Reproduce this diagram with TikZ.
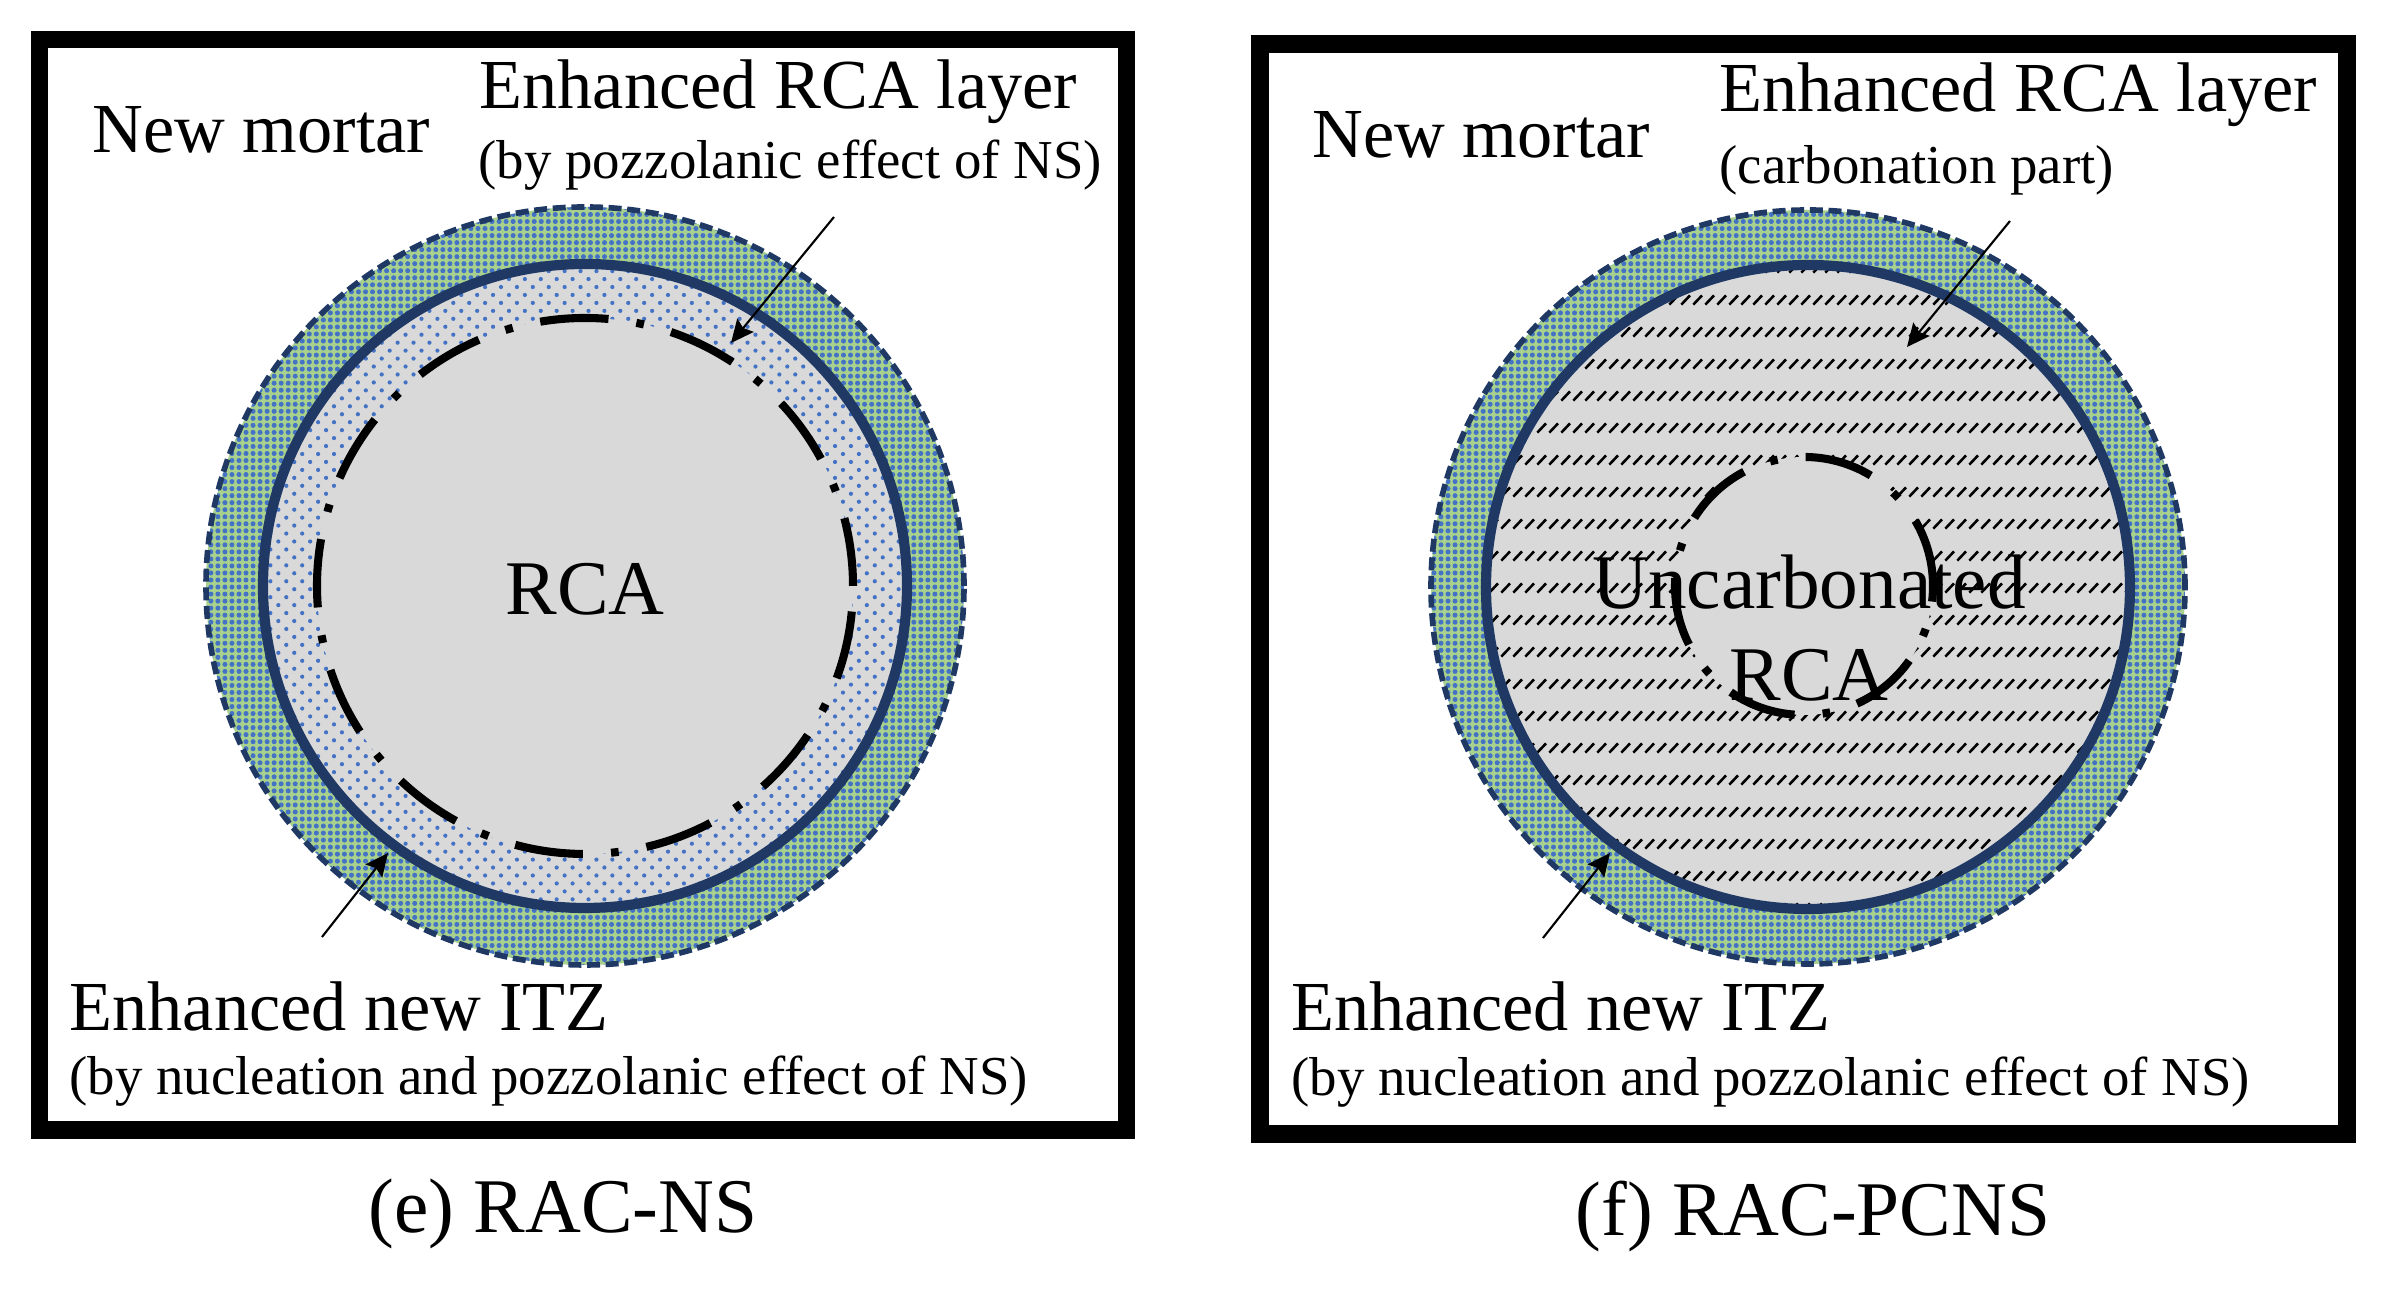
\documentclass[tikz,border=0pt]{standalone}
\usepackage{fontspec}
\setmainfont{Liberation Serif}
\usetikzlibrary{patterns,patterns.meta,arrows.meta}

\definecolor{itznavy}{HTML}{1F3864}
\definecolor{itzgreen}{HTML}{A9D18E}
\definecolor{nsblue}{HTML}{4472C4}
\definecolor{rcagray}{HTML}{D9D9D9}

% short diagonal dashes in rows (carbonated part)
\pgfdeclarepatternformonly{carbhatch}{\pgfqpoint{0pt}{0pt}}{\pgfqpoint{3.5pt}{9.1pt}}{\pgfqpoint{3.5pt}{9.1pt}}{%
  \pgfsetlinewidth{0.75pt}%
  \pgfpathmoveto{\pgfqpoint{0.4pt}{0.4pt}}%
  \pgfpathlineto{\pgfqpoint{3.0pt}{3.0pt}}%
  \pgfusepath{stroke}}

\begin{document}
\begin{tikzpicture}[
  frame/.style={draw, line width=5pt},
  itzring/.style={fill=itzgreen, postaction={pattern={Dots[distance=2pt, radius=0.72pt]}, pattern color=nsblue}},
  nsdots/.style={fill=rcagray, postaction={pattern={Dots[angle=45, distance=3.2pt, radius=0.6pt]}, pattern color=nsblue}},
  carbon/.style={fill=rcagray, postaction={pattern=carbhatch}},
  navyline/.style={draw=itznavy, line width=2.9pt},
  outline/.style={draw=itznavy, line width=1.6pt, dash pattern=on 3.7pt off 1.6pt},
  dashdot/.style={draw=black, line width=2.3pt, dash pattern=on 19.5pt off 8pt on 2.2pt off 8pt},
  lbl/.style={font=\fontsize{20}{24}\selectfont, inner sep=0pt, anchor=west},
  note/.style={font=\fontsize{15.6}{18}\selectfont, inner sep=0pt, anchor=west},
  big/.style={font=\fontsize{22}{26.2}\selectfont, inner sep=0pt, align=center},
  arr/.style={-{Stealth[length=6.5pt, width=6pt, inset=1pt]}, line width=0.6pt},
]
  \useasboundingbox (0,0) rectangle (24.01,12.97);

  % (e) RAC-NS
  \draw[frame] (0.395,12.575) rectangle (11.265,1.67);
  \fill[itzring] (5.85,7.11) circle[radius=3.79];
  \fill[nsdots] (5.85,7.11) circle[radius=3.22];
  \fill[rcagray] (5.85,7.11) circle[radius=2.68];
  \draw[dashdot] (5.85,7.11) circle[radius=2.68];
  \draw[navyline] (5.85,7.11) circle[radius=3.22];
  \draw[outline] (5.85,7.11) circle[radius=3.79];

  \node[big] (rca1) at (5.85,7.08) {RCA};
  \node[lbl] (mortar1) at (0.92,11.67) {New mortar};
  \node[lbl] (layer1) at (4.79,12.05) {Enhanced RCA layer};
  \node[note] (pozz1) at (4.78,11.32) {(by pozzolanic effect of NS)};
  \node[lbl] (itz1) at (0.69,2.91) {Enhanced new ITZ};
  \node[note] (nucl1) at (0.69,2.16) {(by nucleation and pozzolanic effect of NS)};
  \node[big] (cap1) at (5.63,0.83) {(e) RAC-NS};

  \coordinate (t1) at (8.34,10.80);
  \coordinate (h1) at (7.31,9.54);
  \coordinate (t2) at (3.22,3.60);
  \coordinate (h2) at (3.88,4.44);
  \draw[arr] (t1) -- (h1);
  \draw[arr] (t2) -- (h2);

  % (f) RAC-PCNS
  \draw[frame] (12.60,12.53) rectangle (23.47,1.63);
  \fill[itzring] (18.08,7.10) circle[radius=3.77];
  \fill[carbon] (18.08,7.10) circle[radius=3.22];
  \fill[rcagray] (18.04,7.11) circle[radius=1.29];
  \draw[dashdot] (18.04,7.11) circle[radius=1.29];
  \draw[navyline] (18.08,7.10) circle[radius=3.22];
  \draw[outline] (18.08,7.10) circle[radius=3.77];

  \node[big] (rca2) at (18.09,6.69) {Uncarbonated\\RCA};
  \node[lbl] (mortar2) at (13.12,11.62) {New mortar};
  \node[lbl] (layer2) at (17.19,12.02) {Enhanced RCA layer};
  \node[note] (carb2) at (17.19,11.27) {(carbonation part)};
  \node[lbl] (itz2) at (12.91,2.91) {Enhanced new ITZ};
  \node[note] (nucl2) at (12.91,2.15) {(by nucleation and pozzolanic effect of NS)};
  \node[big] (cap2) at (18.13,0.80) {(f) RAC-PCNS};

  \coordinate (t3) at (20.10,10.76);
  \coordinate (h3) at (19.07,9.50);
  \coordinate (t4) at (15.43,3.59);
  \coordinate (h4) at (16.10,4.44);
  \draw[arr] (t3) -- (h3);
  \draw[arr] (t4) -- (h4);
\end{tikzpicture}
\end{document}
